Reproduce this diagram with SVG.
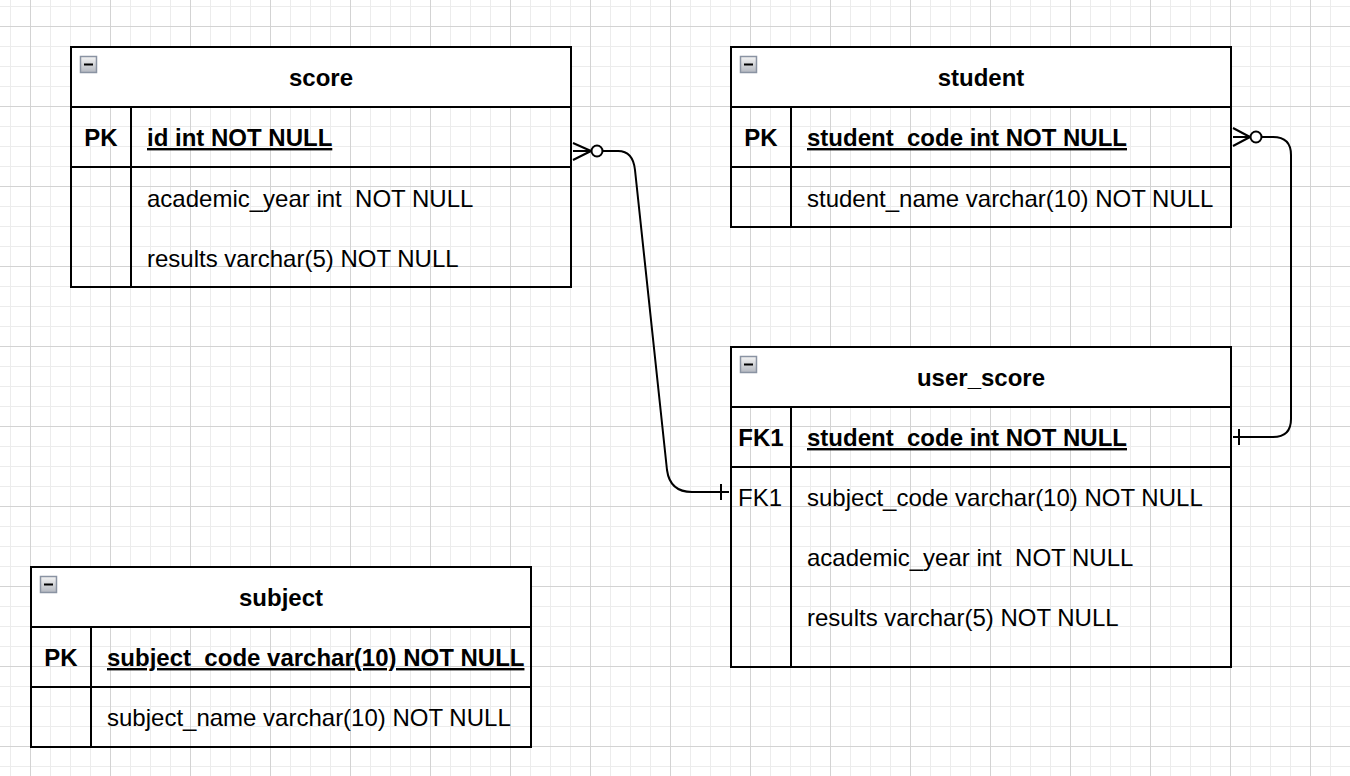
<svg xmlns="http://www.w3.org/2000/svg" width="1350" height="776" viewBox="0 0 1350 776">
<defs>
<pattern id="grid" patternUnits="userSpaceOnUse" x="10" y="6" width="80" height="80">
<rect x="0" y="0" width="80" height="80" fill="#ffffff"/>
<rect x="0" y="0" width="1" height="80" fill="#ececec"/>
<rect x="40" y="0" width="1" height="80" fill="#ececec"/>
<rect x="60" y="0" width="1" height="80" fill="#ececec"/>
<rect x="0" y="0" width="80" height="1" fill="#ececec"/>
<rect x="0" y="40" width="80" height="1" fill="#ececec"/>
<rect x="0" y="60" width="80" height="1" fill="#ececec"/>
<rect x="20" y="0" width="1" height="80" fill="#d3d3d3"/>
<rect x="0" y="20" width="80" height="1" fill="#d3d3d3"/>
</pattern>
<linearGradient id="btn" x1="0" y1="0" x2="0" y2="1">
<stop offset="0" stop-color="#f4f4f4"/>
<stop offset="1" stop-color="#b4b8c0"/>
</linearGradient>
<g id="minus">
<rect x="0.5" y="0.5" width="16" height="16" fill="url(#btn)" stroke="#8a93a2" stroke-width="1.5"/>
<rect x="4" y="7.5" width="9" height="2" fill="#000"/>
</g>
</defs>
<style>
.box{fill:none;stroke:#000;stroke-width:2}
.hdr{fill:#fff;stroke:#000;stroke-width:2}
.sep{stroke:#000;stroke-width:2}
.t{font-family:"Liberation Sans",Arial,Helvetica,sans-serif;font-size:24px;fill:#000}
.title{font-weight:bold;text-anchor:middle}
.key{text-anchor:middle}
.b{font-weight:bold}
.u{text-decoration:underline}
.conn{fill:none;stroke:#000;stroke-width:2}
</style>
<rect x="0" y="0" width="1350" height="776" fill="url(#grid)"/>

<g id="connectors">
<!-- score -> user_score -->
<path class="conn" d="M573,143 L591,151 M573,160 L591,151 M573,151 L592,151"/>
<circle class="conn" cx="597" cy="151" r="5.5"/>
<path class="conn" d="M602.5,151 L618,151 Q633,151 635,170 L667,470 Q670,492 692,492 L729,492"/>
<path class="conn" d="M721,484 L721,500"/>
<!-- student -> user_score -->
<path class="conn" d="M1233,128 L1250,137 M1233,146 L1250,137 M1233,137 L1251,137"/>
<circle class="conn" cx="1256" cy="137" r="5.5"/>
<path class="conn" d="M1261.5,137 L1273,137 Q1291,137 1291,155 L1291,419 Q1291,437 1273,437 L1233,437"/>
<path class="conn" d="M1239,429 L1239,445"/>
</g>

<g id="score">
<rect class="hdr" x="71" y="47" width="500" height="60"/>
<rect class="box" x="71" y="47" width="500" height="240"/>
<line class="sep" x1="71" y1="167" x2="571" y2="167"/>
<line class="sep" x1="131" y1="107" x2="131" y2="287"/>
<use href="#minus" x="80" y="56"/>
<text class="t title" x="321" y="86">score</text>
<text class="t key b" x="101" y="146">PK</text>
<text class="t b u" x="147" y="146">id int NOT NULL</text>
<text class="t" x="147" y="207" xml:space="preserve">academic_year int  NOT NULL</text>
<text class="t" x="147" y="267">results varchar(5) NOT NULL</text>
</g>

<g id="student">
<rect class="hdr" x="731" y="47" width="500" height="60"/>
<rect class="box" x="731" y="47" width="500" height="180"/>
<line class="sep" x1="731" y1="167" x2="1231" y2="167"/>
<line class="sep" x1="791" y1="107" x2="791" y2="227"/>
<use href="#minus" x="740" y="56"/>
<text class="t title" x="981" y="86">student</text>
<text class="t key b" x="761" y="146">PK</text>
<text class="t b u" x="807" y="146">student_code int NOT NULL</text>
<text class="t" x="807" y="207">student_name varchar(10) NOT NULL</text>
</g>

<g id="user_score">
<rect class="hdr" x="731" y="347" width="500" height="60"/>
<rect class="box" x="731" y="347" width="500" height="320"/>
<line class="sep" x1="731" y1="467" x2="1231" y2="467"/>
<line class="sep" x1="791" y1="407" x2="791" y2="667"/>
<use href="#minus" x="740" y="356"/>
<text class="t title" x="981" y="386">user_score</text>
<text class="t key b" x="761" y="446">FK1</text>
<text class="t b u" x="807" y="446">student_code int NOT NULL</text>
<text class="t key" x="760" y="506">FK1</text>
<text class="t" x="807" y="506">subject_code varchar(10) NOT NULL</text>
<text class="t" x="807" y="566" xml:space="preserve">academic_year int  NOT NULL</text>
<text class="t" x="807" y="626">results varchar(5) NOT NULL</text>
</g>

<g id="subject">
<rect class="hdr" x="31" y="567" width="500" height="60"/>
<rect class="box" x="31" y="567" width="500" height="180"/>
<line class="sep" x1="31" y1="687" x2="531" y2="687"/>
<line class="sep" x1="91" y1="627" x2="91" y2="747"/>
<use href="#minus" x="40" y="576"/>
<text class="t title" x="281" y="606">subject</text>
<text class="t key b" x="61" y="666">PK</text>
<text class="t b u" x="107" y="666">subject_code varchar(10) NOT NULL</text>
<text class="t" x="107" y="726">subject_name varchar(10) NOT NULL</text>
</g>
</svg>
